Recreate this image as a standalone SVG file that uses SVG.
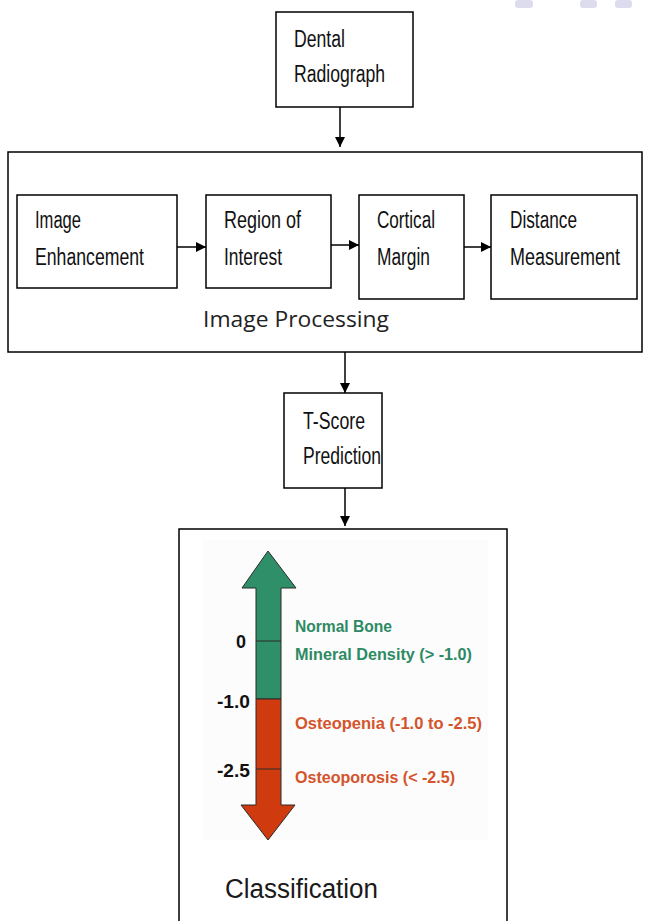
<svg xmlns="http://www.w3.org/2000/svg" width="649" height="921" viewBox="0 0 649 921">
<style>
.box{fill:#fff;stroke:#000;stroke-width:1.5}
.t{font-family:"Liberation Sans",Arial,sans-serif;font-size:23px;fill:#111}
.con{stroke:#000;stroke-width:1.5;fill:none}
.lab{font-family:"Liberation Sans",Arial,sans-serif;font-weight:bold;font-size:18px;fill:#111}
.g{font-family:"Liberation Sans",Arial,sans-serif;font-weight:bold;font-size:17px;fill:#2d8a64}
.r{font-family:"Liberation Sans",Arial,sans-serif;font-weight:bold;font-size:17px;fill:#d4542b}
</style>
<defs>
<marker id="ah" viewBox="0 0 10 10" refX="10" refY="5" markerWidth="10" markerHeight="12" markerUnits="userSpaceOnUse" orient="auto">
<path d="M0,0 L10,5 L0,10 z" fill="#000"/>
</marker>
</defs>
<rect width="649" height="921" fill="#fff"/>
<g id="watermark" fill="#dcdcee">
<rect x="515" y="0" width="18" height="8" rx="3"/>
<rect x="580" y="0" width="17" height="8" rx="3"/>
<rect x="615" y="0" width="17" height="8" rx="3"/>
</g>
<g id="dental">
<rect class="box" x="276" y="12" width="137" height="95"/>
<text class="t" x="294" y="47" textLength="51" lengthAdjust="spacingAndGlyphs">Dental</text>
<text class="t" x="294" y="82" textLength="91" lengthAdjust="spacingAndGlyphs">Radiograph</text>
</g>
<g id="processing">
<rect class="box" x="8" y="152" width="634" height="200"/>
<text x="203" y="327" font-family="'Open Sans','Noto Sans',sans-serif" font-size="21" fill="#222" textLength="186" lengthAdjust="spacingAndGlyphs">Image Processing</text>
</g>
<g id="enhancement">
<rect class="box" x="17" y="195" width="160" height="93"/>
<text class="t" x="35" y="228" textLength="46" lengthAdjust="spacingAndGlyphs">Image</text>
<text class="t" x="35" y="265" textLength="109" lengthAdjust="spacingAndGlyphs">Enhancement</text>
</g>
<g id="roi">
<rect class="box" x="206" y="195" width="125" height="93"/>
<text class="t" x="224" y="228" textLength="77" lengthAdjust="spacingAndGlyphs">Region of</text>
<text class="t" x="224" y="265" textLength="58" lengthAdjust="spacingAndGlyphs">Interest</text>
</g>
<g id="cortical">
<rect class="box" x="359" y="195" width="105" height="104"/>
<text class="t" x="377" y="228" textLength="58" lengthAdjust="spacingAndGlyphs">Cortical</text>
<text class="t" x="377" y="265" textLength="53" lengthAdjust="spacingAndGlyphs">Margin</text>
</g>
<g id="distance">
<rect class="box" x="491" y="195" width="146" height="104"/>
<text class="t" x="510" y="228" textLength="67" lengthAdjust="spacingAndGlyphs">Distance</text>
<text class="t" x="510" y="265" textLength="110" lengthAdjust="spacingAndGlyphs">Measurement</text>
</g>
<g id="tscore">
<rect class="box" x="284" y="393" width="98" height="95"/>
<text class="t" x="303" y="429" textLength="62" lengthAdjust="spacingAndGlyphs">T-Score</text>
<text class="t" x="303" y="464" textLength="78" lengthAdjust="spacingAndGlyphs">Prediction</text>
</g>
<g id="classification">
<rect class="box" x="179" y="529" width="328" height="400"/>
<rect x="203" y="540" width="285" height="300" fill="#fcfcfc"/>
<path d="M256,699 L256,588 L242,588 L268,551 L296,588 L281,588 L281,699 Z" fill="#2f8f68" stroke="#2b2b2b" stroke-width="1"/>
<path d="M256,699 L281,699 L281,805 L295,805 L268,840 L241,805 L256,805 Z" fill="#cf3a0e" stroke="#2b2b2b" stroke-width="1"/>
<line x1="256" y1="641" x2="281" y2="641" stroke="#2b2b2b" stroke-width="1"/>
<line x1="256" y1="769" x2="281" y2="769" stroke="#2b2b2b" stroke-width="1"/>
<text class="lab" x="236" y="648" textLength="10" lengthAdjust="spacingAndGlyphs">0</text>
<text class="lab" x="217" y="708" textLength="33" lengthAdjust="spacingAndGlyphs">-1.0</text>
<text class="lab" x="217" y="777" textLength="33" lengthAdjust="spacingAndGlyphs">-2.5</text>
<text class="g" x="295" y="632" textLength="97" lengthAdjust="spacingAndGlyphs">Normal Bone</text>
<text class="g" x="295" y="660" textLength="177" lengthAdjust="spacingAndGlyphs">Mineral Density (&gt; -1.0)</text>
<text class="r" x="295" y="729" textLength="187" lengthAdjust="spacingAndGlyphs">Osteopenia (-1.0 to -2.5)</text>
<text class="r" x="295" y="783" textLength="160" lengthAdjust="spacingAndGlyphs">Osteoporosis (&lt; -2.5)</text>
<text x="225" y="898" font-family="'Liberation Sans',Arial,sans-serif" font-size="27" fill="#1a1a1a" textLength="153" lengthAdjust="spacingAndGlyphs">Classification</text>
</g>
<g id="connectors">
<line class="con" x1="340" y1="107" x2="340" y2="147" marker-end="url(#ah)"/>
<line class="con" x1="177" y1="247" x2="206" y2="247" marker-end="url(#ah)"/>
<line class="con" x1="331" y1="245" x2="359" y2="245" marker-end="url(#ah)"/>
<line class="con" x1="464" y1="247" x2="491" y2="247" marker-end="url(#ah)"/>
<line class="con" x1="345" y1="352" x2="345" y2="393" marker-end="url(#ah)"/>
<line class="con" x1="345" y1="488" x2="345" y2="526" marker-end="url(#ah)"/>
</g>
</svg>
